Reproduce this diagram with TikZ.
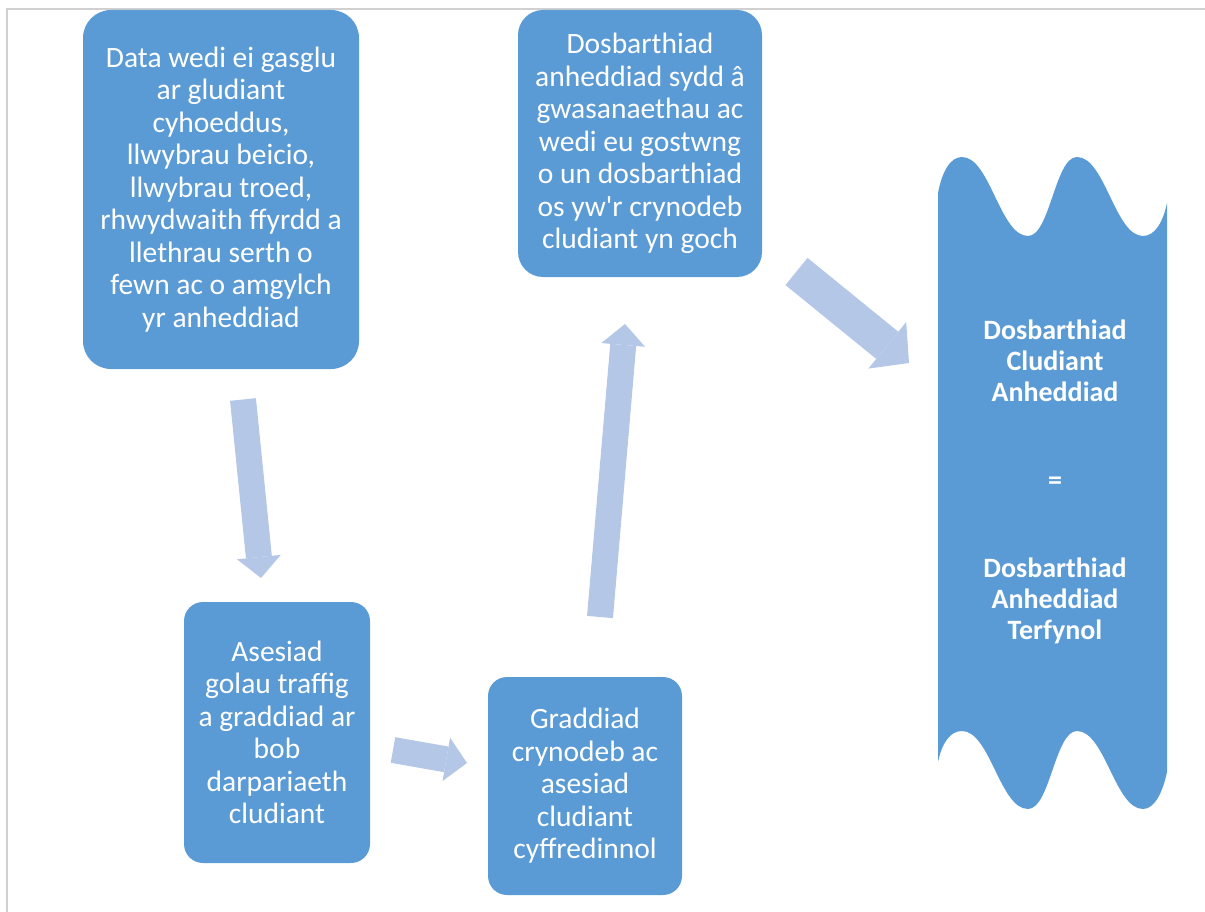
\documentclass[tikz,border=0pt]{standalone}
\usepackage{fontspec}
\setmainfont{Carlito}[Ligatures=TeXOff]
\usetikzlibrary{arrows.meta}
\definecolor{boxblue}{HTML}{5B9BD5}
\definecolor{arrowblue}{HTML}{B4C7E7}
\definecolor{framegray}{HTML}{D0D0D0}
\tikzset{
  box/.style={fill=boxblue, draw=none, text=white, align=center, inner sep=0pt,
    font=\fontsize{29.5pt}{32.5pt}\selectfont},
  bigarrow/.style={draw=arrowblue, line width=26pt,
    -{Triangle[length=21pt,width=44pt,line width=0pt]}},
  hugearrow/.style={draw=arrowblue, line width=35pt,
    -{Triangle[length=28pt,width=60pt,line width=0pt]}},
  bannertext/.style={text=white, align=center, inner sep=0pt,
    font=\bfseries\fontsize{28pt}{31pt}\selectfont}
}
\begin{document}
\begin{tikzpicture}[x=1pt,y=-1pt]
\useasboundingbox (0,0) rectangle (1205,912);
% frame
\draw[framegray, line width=2pt] (7,912) -- (7,9) -- (1205,9);
% boxes
\node[box, minimum width=276pt, minimum height=359pt, rounded corners=28pt] (b1) at (221,189.5)
  {Data wedi ei gasglu\\ar gludiant\\cyhoeddus,\\llwybrau beicio,\\llwybrau troed,\\rhwydwaith ffyrdd a\\llethrau serth o\\fewn ac o amgylch\\yr anheddiad};
\node[box, minimum width=244pt, minimum height=267pt, rounded corners=25pt] (b2) at (640,143.5)
  {Dosbarthiad\\anheddiad sydd â\\gwasanaethau ac\\wedi eu gostwng\\o un dosbarthiad\\os yw'r crynodeb\\cludiant yn goch};
\node[box, minimum width=186pt, minimum height=261pt, rounded corners=19pt] (b3) at (277,732.5)
  {Asesiad\\golau traffig\\a graddiad ar\\bob\\darpariaeth\\cludiant};
\node[box, minimum width=194pt, minimum height=218pt, rounded corners=19pt] (b4) at (585,786)
  {Graddiad\\crynodeb ac\\asesiad\\cludiant\\cyffredinnol};
% wave banner
\fill[boxblue] (938,193) .. controls (942,172) and (950,157) .. (962,157)
  .. controls (990,157) and (1000,236) .. (1028,236)
  .. controls (1050,236) and (1055,157) .. (1077,157)
  .. controls (1105,157) and (1115,236) .. (1143,236)
  .. controls (1155,236) and (1163,222) .. (1167,203)
  -- (1167,772)
  .. controls (1163,791) and (1155,809) .. (1143,809)
  .. controls (1115,809) and (1105,731) .. (1077,731)
  .. controls (1055,731) and (1050,809) .. (1028,809)
  .. controls (1000,809) and (990,731) .. (962,731)
  .. controls (950,731) and (942,743) .. (938,762)
  -- cycle;
\node[bannertext] (ban) at (1055,481.5)
  {Dosbarthiad\\Cludiant\\Anheddiad\\[57pt]=\\[57pt]Dosbarthiad\\Anheddiad\\Terfynol};
% arrows
\coordinate (a1s) at (243,399.5);
\coordinate (a1e) at (261,578);
\coordinate (a2s) at (393,750);
\coordinate (a2e) at (467,763);
\coordinate (a3s) at (600,617);
\coordinate (a3e) at (625,324);
\coordinate (a4s) at (796.5,271.5);
\coordinate (a4e) at (909,363);
\draw[bigarrow] (a1s) -- (a1e);
\draw[bigarrow] (a2s) -- (a2e);
\draw[bigarrow] (a3s) -- (a3e);
\draw[hugearrow] (a4s) -- (a4e);
\end{tikzpicture}
\end{document}
